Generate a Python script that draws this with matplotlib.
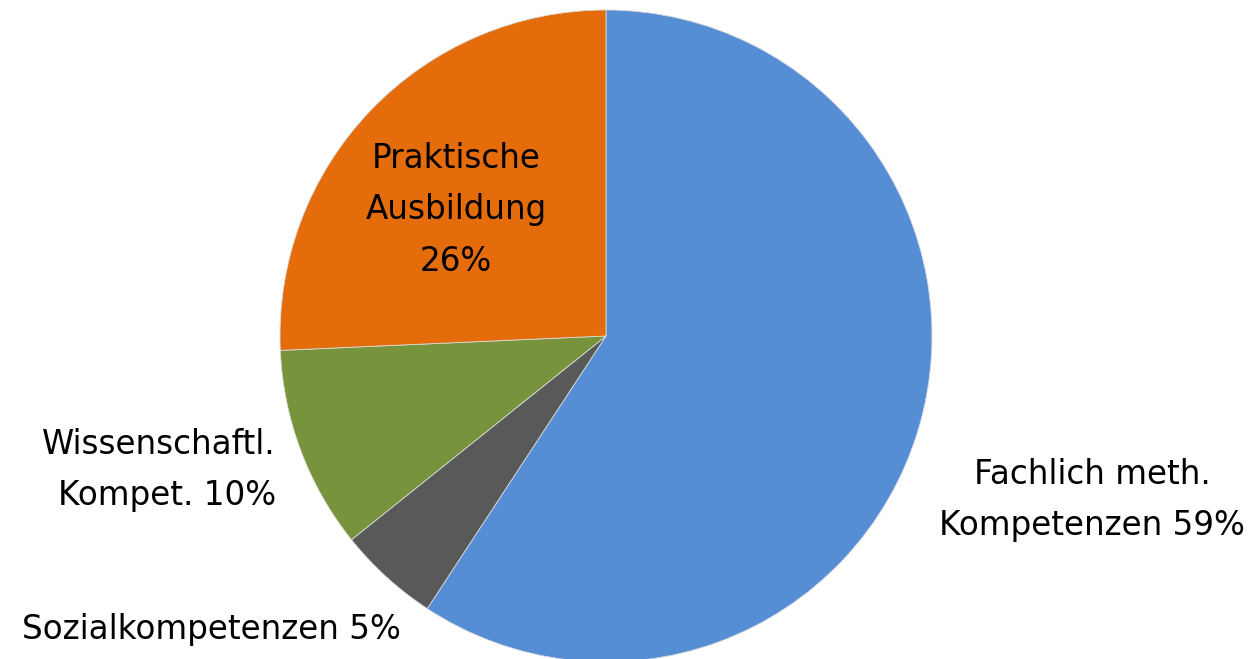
import matplotlib.pyplot as plt

# Shares of the study programme
labels = ["Fachlich meth.\nKompetenzen 59%", "Sozialkompetenzen 5%",
          "Wissenschaftl.\nKompet. 10%", "Praktische\nAusbildung\n26%"]
values = [59, 5, 10, 25.6]
colors = ["#558ED5", "#595959", "#77933C", "#E46C0A"]

# Label positions in pixel coords (y from top) and alignment
label_pos = [(1092, 500), (211, 630), (276, 470), (456, 210)]
label_ha = ["center", "center", "right", "center"]

W, H = 1259, 659
fig = plt.figure(figsize=(W / 100, H / 100), dpi=100)
ax = fig.add_axes([0, 0, 1, 1])

ax.pie(values, colors=colors, startangle=90, counterclock=False,
       center=(606, H - 336), radius=326,
       wedgeprops=dict(edgecolor="#d9d9d9", linewidth=0.6))

# pie() resets the limits, so set them afterwards
ax.set_xlim(0, W)
ax.set_ylim(0, H)
ax.set_aspect("equal")
ax.axis("off")

for text, (x, y), ha in zip(labels, label_pos, label_ha):
    ax.text(x, H - y, text, ha=ha, va="center", multialignment=ha,
            fontsize=23.5, family="DejaVu Sans", linespacing=1.72,
            color="black")

fig.savefig("out.png", dpi=100)
